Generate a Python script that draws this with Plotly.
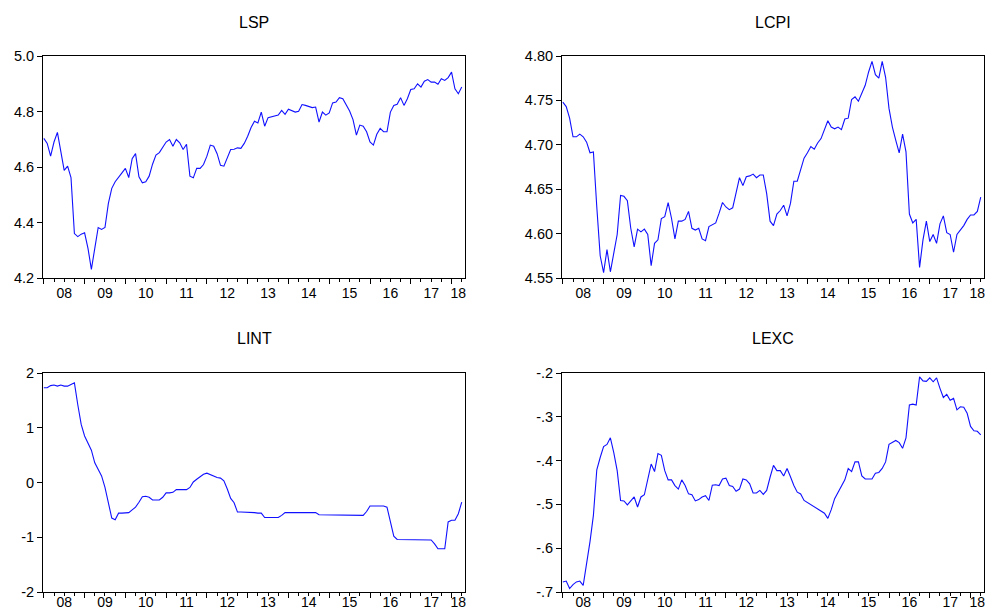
import plotly.graph_objects as go

# ---------------- data (monthly, 2008M01 .. 2018M04) ----------------
start_year = 2008
n_obs = 124

LSP = [4.703, 4.685, 4.639, 4.690, 4.725, 4.660, 4.588, 4.603, 4.562, 4.360, 4.349, 4.358,
       4.363, 4.307, 4.231, 4.307, 4.382, 4.375, 4.382, 4.469, 4.523, 4.547, 4.565, 4.579,
       4.595, 4.562, 4.630, 4.648, 4.565, 4.543, 4.547, 4.567, 4.610, 4.643, 4.652, 4.673,
       4.690, 4.699, 4.675, 4.699, 4.687, 4.663, 4.682, 4.567, 4.561, 4.595, 4.595, 4.609,
       4.639, 4.679, 4.675, 4.648, 4.606, 4.603, 4.630, 4.663, 4.664, 4.669, 4.667, 4.685,
       4.711, 4.742, 4.765, 4.759, 4.798, 4.747, 4.778, 4.781, 4.783, 4.787, 4.804, 4.790,
       4.808, 4.804, 4.798, 4.801, 4.825, 4.822, 4.819, 4.814, 4.816, 4.762, 4.798, 4.787,
       4.795, 4.831, 4.834, 4.850, 4.846, 4.822, 4.802, 4.771, 4.715, 4.751, 4.747, 4.727,
       4.690, 4.679, 4.718, 4.739, 4.727, 4.727, 4.798, 4.822, 4.826, 4.850, 4.822, 4.846,
       4.879, 4.882, 4.900, 4.888, 4.909, 4.915, 4.906, 4.906, 4.898, 4.918, 4.912, 4.922,
       4.942, 4.882, 4.864, 4.888]

LCPI = [4.748, 4.743, 4.730, 4.709, 4.709, 4.712, 4.709, 4.703, 4.691, 4.692, 4.630, 4.575,
        4.556, 4.582, 4.557, 4.578, 4.599, 4.643, 4.642, 4.637, 4.606, 4.585, 4.605, 4.602,
        4.605, 4.599, 4.564, 4.589, 4.593, 4.617, 4.619, 4.635, 4.617, 4.594, 4.614, 4.614,
        4.616, 4.625, 4.606, 4.604, 4.606, 4.594, 4.592, 4.608, 4.610, 4.612, 4.623, 4.635,
        4.630, 4.627, 4.629, 4.647, 4.663, 4.654, 4.664, 4.665, 4.667, 4.663, 4.666, 4.666,
        4.645, 4.614, 4.609, 4.622, 4.626, 4.632, 4.620, 4.634, 4.659, 4.659, 4.672, 4.685,
        4.691, 4.698, 4.695, 4.702, 4.707, 4.716, 4.727, 4.720, 4.718, 4.720, 4.717, 4.729,
        4.730, 4.751, 4.754, 4.749, 4.758, 4.767, 4.782, 4.794, 4.779, 4.775, 4.794, 4.776,
        4.741, 4.720, 4.705, 4.691, 4.712, 4.692, 4.622, 4.612, 4.616, 4.562, 4.593, 4.614,
        4.591, 4.599, 4.589, 4.611, 4.620, 4.601, 4.599, 4.579, 4.599, 4.604, 4.609, 4.616,
        4.621, 4.621, 4.625, 4.641]

LINT = [1.73, 1.73, 1.77, 1.78, 1.76, 1.78, 1.76, 1.76, 1.79, 1.82, 1.42, 1.06,
        0.85, 0.72, 0.59, 0.36, 0.24, 0.12, -0.09, -0.36, -0.65, -0.68, -0.56, -0.56,
        -0.56, -0.55, -0.50, -0.45, -0.36, -0.26, -0.25, -0.27, -0.32, -0.32, -0.32, -0.27,
        -0.19, -0.19, -0.18, -0.13, -0.13, -0.13, -0.13, -0.09, 0.01, 0.06, 0.11, 0.15,
        0.17, 0.14, 0.11, 0.09, 0.08, 0.03, -0.12, -0.29, -0.37, -0.54, -0.54, -0.54,
        -0.54, -0.54, -0.55, -0.56, -0.56, -0.64, -0.64, -0.64, -0.64, -0.64, -0.60, -0.55,
        -0.55, -0.55, -0.55, -0.55, -0.55, -0.55, -0.55, -0.55, -0.55, -0.59, -0.59, -0.59,
        -0.59, -0.59, -0.60, -0.60, -0.60, -0.60, -0.60, -0.60, -0.60, -0.60, -0.60, -0.53,
        -0.43, -0.43, -0.43, -0.43, -0.43, -0.45, -0.72, -0.98, -1.04, -1.04, -1.04, -1.05,
        -1.05, -1.05, -1.05, -1.05, -1.05, -1.05, -1.05, -1.12, -1.21, -1.21, -1.21, -0.72,
        -0.69, -0.69, -0.57, -0.36]

LEXC = [-0.677, -0.675, -0.692, -0.683, -0.677, -0.675, -0.685, -0.638, -0.585, -0.525, -0.421, -0.393,
        -0.368, -0.363, -0.348, -0.382, -0.423, -0.491, -0.492, -0.501, -0.491, -0.483, -0.506, -0.483,
        -0.478, -0.446, -0.408, -0.425, -0.384, -0.388, -0.423, -0.444, -0.444, -0.457, -0.465, -0.444,
        -0.457, -0.476, -0.478, -0.492, -0.489, -0.483, -0.480, -0.491, -0.456, -0.455, -0.457, -0.442,
        -0.440, -0.457, -0.459, -0.470, -0.465, -0.442, -0.444, -0.453, -0.474, -0.474, -0.468, -0.477,
        -0.468, -0.438, -0.411, -0.423, -0.423, -0.435, -0.418, -0.437, -0.457, -0.472, -0.476, -0.491,
        -0.496, -0.501, -0.505, -0.510, -0.517, -0.520, -0.532, -0.512, -0.487, -0.472, -0.456, -0.444,
        -0.418, -0.425, -0.403, -0.403, -0.435, -0.442, -0.442, -0.442, -0.429, -0.427, -0.418, -0.403,
        -0.363, -0.358, -0.354, -0.359, -0.372, -0.348, -0.273, -0.271, -0.273, -0.209, -0.218, -0.219,
        -0.211, -0.220, -0.211, -0.235, -0.256, -0.249, -0.262, -0.258, -0.284, -0.277, -0.278, -0.292,
        -0.322, -0.332, -0.333, -0.341]

titles = ["LSP", "LCPI", "LINT", "LEXC"]
series = [LSP, LCPI, LINT, LEXC]

year_labels = ["08", "09", "10", "11", "12", "13", "14", "15", "16", "17", "18"]

y_ranges = [[4.2, 5.0], [4.55, 4.80], [-2, 2], [-0.7, -0.2]]
y_tickvals = [[4.2, 4.4, 4.6, 4.8, 5.0],
              [4.55, 4.60, 4.65, 4.70, 4.75, 4.80],
              [-2, -1, 0, 1, 2],
              [-0.7, -0.6, -0.5, -0.4, -0.3, -0.2]]
y_ticktext = [["4.2", "4.4", "4.6", "4.8", "5.0"],
              ["4.55", "4.60", "4.65", "4.70", "4.75", "4.80"],
              ["-2", "-1", "0", "1", "2"],
              ["-.7", "-.6", "-.5", "-.4", "-.3", "-.2"]]

# ---------------- derived ----------------
x = [start_year + i / 12 for i in range(n_obs)]
x_range = [start_year - 0.02, x[-1] + 0.08]
label_pos = []
for k in range(len(year_labels)):
    a = start_year + k
    b = min(a + 1, x_range[1])
    label_pos.append((a + b) / 2)

W, H = 987, 614
# panel geometry in pixels (left, right, top, bottom)
panels = [(43, 465, 56, 278), (562, 984, 56, 278),
          (43, 465, 373, 592), (562, 984, 373, 592)]
label_len = [2, 2, 0, 0]
title_y = [22, 22, 338, 338]

FONT = "Liberation Sans, Arial, sans-serif"
fig = go.Figure()
layout = dict(width=W, height=H, autosize=False,
              margin=dict(l=0, r=0, t=0, b=0, pad=0, autoexpand=False),
              paper_bgcolor="white", plot_bgcolor="white", showlegend=False,
              font=dict(family=FONT, color="black"))
annotations = []

for i in range(4):
    l, r, t, b = panels[i]
    xd = [l / W, r / W]
    yd = [1 - b / H, 1 - t / H]
    n = i + 1
    xa = "xaxis" if n == 1 else f"xaxis{n}"
    ya = "yaxis" if n == 1 else f"yaxis{n}"
    xref = "x" if n == 1 else f"x{n}"
    yref = "y" if n == 1 else f"y{n}"
    ov = f"xaxis{n + 4}"
    ovref = f"x{n + 4}"

    fig.add_trace(go.Scatter(x=x, y=series[i], mode="lines",
                             line=dict(color="#1010ff", width=1.1),
                             xaxis=xref, yaxis=yref, hoverinfo="skip"))
    # invisible trace so the label axis is created
    fig.add_trace(go.Scatter(x=[x[0]], y=[series[i][0]], mode="lines",
                             line=dict(color="rgba(0,0,0,0)"),
                             xaxis=ovref, yaxis=yref, hoverinfo="skip"))

    layout[xa] = dict(domain=xd, anchor=yref, range=x_range, automargin=False,
                      tickmode="linear", tick0=start_year, dtick=1,
                      ticks="outside", ticklen=5, tickwidth=1, tickcolor="black",
                      showticklabels=False, showgrid=False, zeroline=False,
                      showline=True, linecolor="black", linewidth=1, mirror=True,
                      minor=dict(tickmode="linear", tick0=start_year, dtick=0.25,
                                 ticks="outside", ticklen=3, tickwidth=1,
                                 tickcolor="black", showgrid=False))
    layout[ov] = dict(overlaying=xref, anchor=yref, side="bottom", range=x_range,
                      automargin=False,
                      tickmode="array", tickvals=label_pos, ticktext=year_labels,
                      ticks="outside" if label_len[i] else "", ticklen=label_len[i],
                      tickcolor="rgba(0,0,0,0)",
                      showgrid=False, zeroline=False, showline=False,
                      tickfont=dict(family=FONT, size=14, color="black"))
    layout[ya] = dict(domain=yd, anchor=xref, range=y_ranges[i], automargin=False,
                      tickmode="array", tickvals=y_tickvals[i], ticktext=y_ticktext[i],
                      ticks="outside", ticklen=5, tickwidth=1, tickcolor="black",
                      showgrid=False, zeroline=False,
                      showline=True, linecolor="black", linewidth=1, mirror=True,
                      tickfont=dict(family=FONT, size=14.5, color="black"))
    annotations.append(dict(text=titles[i], xref="paper", yref="paper",
                            x=(xd[0] + xd[1]) / 2, y=1 - title_y[i] / H,
                            xanchor="center", yanchor="middle", showarrow=False,
                            font=dict(family=FONT, size=16, color="black")))

layout["annotations"] = annotations
fig.update_layout(**layout)
fig.write_html("out.html",
               config={"displayModeBar": False, "responsive": False},
               post_script="document.body.style.margin='0px';"
                           "document.body.style.overflow='hidden';")
